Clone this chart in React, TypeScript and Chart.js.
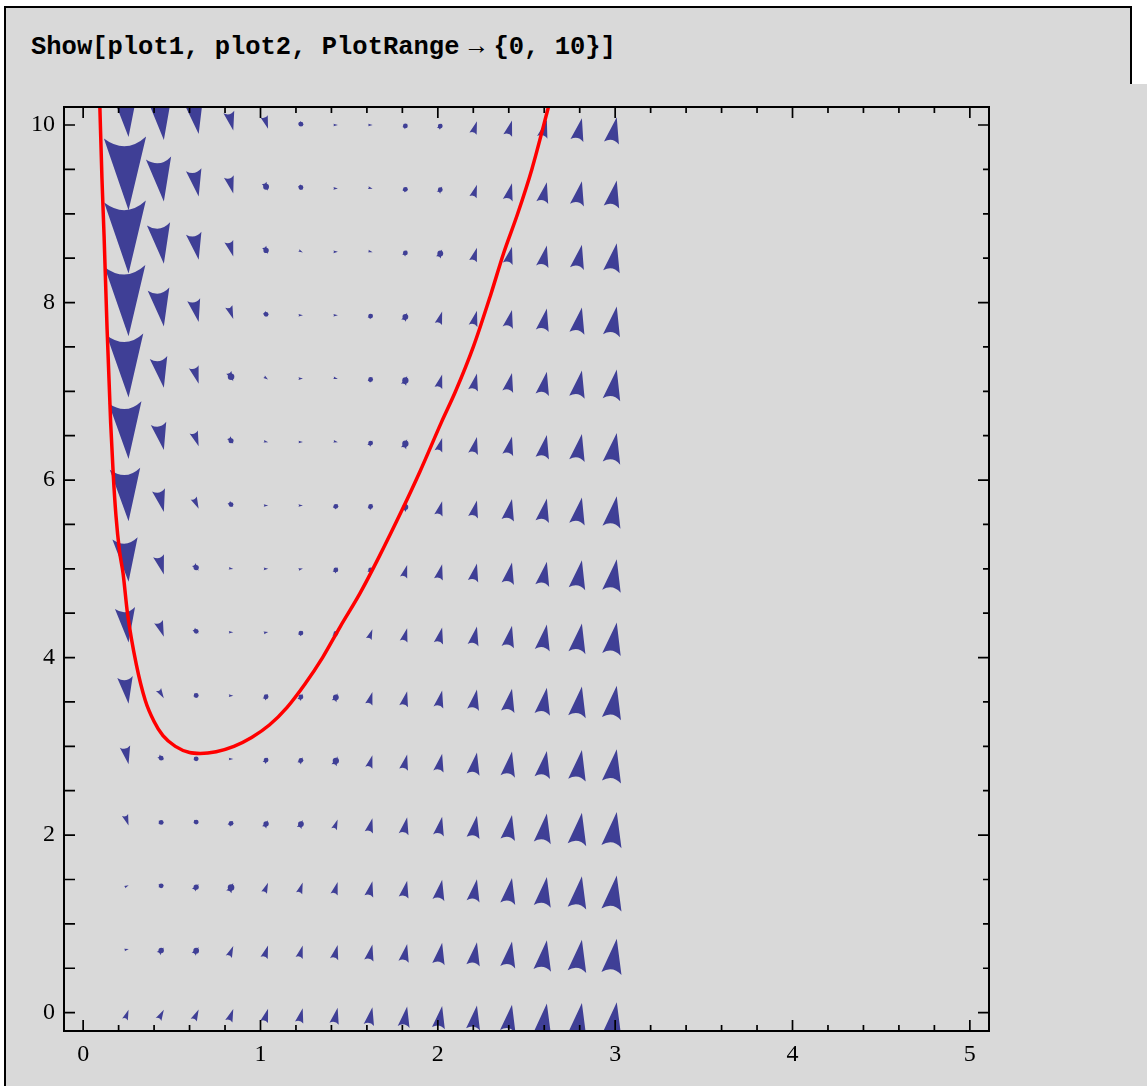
import React, { useEffect, useRef } from "react";
import { Chart, registerables } from "chart.js";

Chart.register(...registerables);

// ---------- data ----------
const CODE_BEFORE_RULE = "Show[plot1, plot2, PlotRange";
const CODE_RULE = "\u2192";
const CODE_AFTER_RULE = "{0, 10}]";

const X_RANGE = [-0.108, 5.108];
const Y_RANGE = [-0.207, 10.203];

const X_MAJOR_TICKS = [0, 1, 2, 3, 4, 5];
const X_MINOR_TICKS = [
  0.2, 0.4, 0.6, 0.8, 1.2, 1.4, 1.6, 1.8, 2.2, 2.4, 2.6, 2.8, 3.2, 3.4, 3.6, 3.8,
  4.2, 4.4, 4.6, 4.8,
];
const Y_MAJOR_TICKS = [0, 2, 4, 6, 8, 10];
const Y_MINOR_TICKS = [0.5, 1, 1.5, 2.5, 3, 3.5, 4.5, 5, 5.5, 6.5, 7, 7.5, 8.5, 9, 9.5];

// vector field sample points
const FIELD_X = [
  0.25, 0.446, 0.643, 0.839, 1.036, 1.232, 1.429, 1.625, 1.821, 2.018, 2.214, 2.411, 2.607, 2.804, 3.0,
];
const FIELD_Y = [
  0, 0.714, 1.429, 2.143, 2.857, 3.571, 4.286, 5.0, 5.714, 6.429, 7.143, 7.857, 8.571, 9.286, 10,
];
// horizontal arrow component (x units), per column
const FIELD_VX = [
  0.02, 0.03, 0.028, 0.025, 0.022, 0.02, 0.02, 0.02, 0.02, 0.021, 0.022, 0.024, 0.026, 0.028, 0.03,
];
// vertical arrow component (y units), one row per FIELD_Y value
const FIELD_VY_Y00 = [0.11, 0.11, 0.12, 0.14, 0.15, 0.16, 0.18, 0.2, 0.23, 0.25, 0.27, 0.3, 0.34, 0.36, 0.39];
const FIELD_VY_Y01 = [0.01, 0.07, 0.08, 0.12, 0.14, 0.14, 0.16, 0.18, 0.2, 0.24, 0.26, 0.29, 0.34, 0.36, 0.39];
const FIELD_VY_Y02 = [0.02, 0.0, 0.07, 0.1, 0.11, 0.12, 0.14, 0.17, 0.19, 0.23, 0.25, 0.29, 0.33, 0.36, 0.39];
const FIELD_VY_Y03 = [-0.12, 0.0, -0.02, 0.05, 0.08, 0.09, 0.11, 0.16, 0.19, 0.21, 0.25, 0.28, 0.33, 0.36, 0.39];
const FIELD_VY_Y04 = [-0.2, -0.05, -0.01, 0.0, 0.06, 0.07, 0.1, 0.14, 0.17, 0.2, 0.25, 0.28, 0.3, 0.34, 0.37];
const FIELD_VY_Y05 = [-0.3, -0.1, -0.01, 0.0, 0.06, 0.07, 0.09, 0.14, 0.17, 0.19, 0.23, 0.26, 0.3, 0.34, 0.37];
const FIELD_VY_Y06 = [-0.39, -0.17, -0.05, 0.0, 0.01, 0.05, 0.07, 0.11, 0.15, 0.18, 0.21, 0.24, 0.29, 0.33, 0.36];
const FIELD_VY_Y07 = [-0.49, -0.21, -0.07, -0.01, 0.0, 0.01, 0.06, 0.06, 0.14, 0.17, 0.2, 0.24, 0.27, 0.32, 0.36];
const FIELD_VY_Y08 = [-0.59, -0.25, -0.12, -0.05, 0.0, 0.0, 0.05, 0.06, 0.09, 0.16, 0.19, 0.24, 0.26, 0.3, 0.35];
const FIELD_VY_Y09 = [-0.64, -0.3, -0.16, -0.07, -0.01, 0.0, -0.01, 0.06, 0.1, 0.15, 0.19, 0.21, 0.26, 0.3, 0.34];
const FIELD_VY_Y10 = [-0.71, -0.34, -0.19, -0.1, -0.03, 0.0, -0.01, 0.05, 0.1, 0.15, 0.19, 0.21, 0.26, 0.3, 0.34];
const FIELD_VY_Y11 = [-0.79, -0.42, -0.25, -0.14, -0.05, 0.0, 0.0, 0.05, 0.09, 0.14, 0.17, 0.2, 0.25, 0.29, 0.33];
const FIELD_VY_Y12 = [-0.81, -0.45, -0.3, -0.17, -0.08, -0.02, 0.0, -0.01, 0.06, 0.09, 0.15, 0.19, 0.24, 0.27, 0.32];
const FIELD_VY_Y13 = [-0.82, -0.49, -0.3, -0.19, -0.09, -0.05, 0.0, -0.01, 0.05, 0.07, 0.14, 0.19, 0.23, 0.27, 0.3];
const FIELD_VY_Y14 = [-0.45, -0.56, -0.34, -0.21, -0.14, -0.05, 0.0, 0.0, 0.05, 0.06, 0.14, 0.17, 0.2, 0.25, 0.29];
const FIELD_VY = [
  FIELD_VY_Y00, FIELD_VY_Y01, FIELD_VY_Y02, FIELD_VY_Y03, FIELD_VY_Y04,
  FIELD_VY_Y05, FIELD_VY_Y06, FIELD_VY_Y07, FIELD_VY_Y08, FIELD_VY_Y09,
  FIELD_VY_Y10, FIELD_VY_Y11, FIELD_VY_Y12, FIELD_VY_Y13, FIELD_VY_Y14,
];

// red curve
const CURVE_X = [
  0.094, 0.106, 0.118, 0.135, 0.155, 0.17, 0.185, 0.205, 0.225, 0.25, 0.3, 0.35, 0.4, 0.45,
  0.52, 0.6, 0.66, 0.75, 0.85, 0.95, 1.05, 1.15, 1.25, 1.35, 1.45, 1.56, 1.67, 1.8, 1.9,
  2.02, 2.1, 2.2, 2.3, 2.37, 2.45, 2.53, 2.63,
];
const CURVE_Y = [
  10.22, 9.4, 8.75, 7.7, 6.65, 6.05, 5.6, 5.2, 4.95, 4.5, 3.92, 3.52, 3.28, 3.12,
  3.0, 2.93, 2.92, 2.94, 3.0, 3.1, 3.24, 3.44, 3.7, 4.0, 4.35, 4.72, 5.14, 5.67, 6.1,
  6.65, 7.0, 7.5, 8.1, 8.55, 9.0, 9.5, 10.25,
];

// ---------- style ----------
const GRAY = "#d9d9d9";
const ARROW_COLOR = "#3f3f96";
const CURVE_COLOR = "#ff0000";
const LABEL_FONT = "Liberation Serif";

const fieldPlugin = {
  id: "vectorField",
  beforeDatasetsDraw(chart: any) {
    const { ctx, chartArea } = chart;
    const xs = chart.scales.x;
    const ys = chart.scales.y;
    ctx.save();
    ctx.beginPath();
    ctx.rect(chartArea.left, chartArea.top, chartArea.right - chartArea.left, chartArea.bottom - chartArea.top);
    ctx.clip();
    ctx.fillStyle = ARROW_COLOR;
    FIELD_Y.forEach((yv, j) => {
      FIELD_X.forEach((xv, i) => {
        const vx = FIELD_VX[i];
        const vy = FIELD_VY[j][i];
        const px = xs.getPixelForValue(xv);
        const py = ys.getPixelForValue(yv);
        let dx = xs.getPixelForValue(xv + vx) - px;
        let dy = ys.getPixelForValue(yv + vy) - py;
        let L = Math.hypot(dx, dy);
        if (L < 0.5) return;
        if (L < 4.5) {
          dx = (dx / L) * 4.5;
          dy = (dy / L) * 4.5;
          L = 4.5;
        }
        const ux = dx / L;
        const uy = dy / L;
        const nx = -uy;
        const ny = ux;
        const tipX = px + 0.3 * dx;
        const tipY = py + 0.3 * dy;
        const bx = px - 0.7 * dx;
        const by = py - 0.7 * dy;
        const hw = 0.29 * L;
        const notch = 0.12 * L;
        ctx.beginPath();
        ctx.moveTo(tipX, tipY);
        ctx.lineTo(bx + nx * hw, by + ny * hw);
        ctx.quadraticCurveTo(bx + ux * notch * 2, by + uy * notch * 2, bx - nx * hw, by - ny * hw);
        ctx.closePath();
        ctx.fill();
        if (L > 5 && L < 10) {
          ctx.beginPath();
          ctx.arc(px - 0.2 * dx, py - 0.2 * dy, Math.max(2.4, 0.33 * L), 0, Math.PI * 2);
          ctx.fill();
        }
      });
    });
    ctx.restore();
  },
  afterDatasetsDraw(chart: any) {
    const { ctx, chartArea } = chart;
    const xs = chart.scales.x;
    const ys = chart.scales.y;
    const { left, right, top, bottom } = chartArea;
    ctx.save();
    ctx.strokeStyle = "#000";
    ctx.lineWidth = 1.7;
    const xTick = (v: number, len: number) => {
      const p = xs.getPixelForValue(v);
      ctx.beginPath();
      ctx.moveTo(p, bottom);
      ctx.lineTo(p, bottom - len);
      ctx.moveTo(p, top);
      ctx.lineTo(p, top + len);
      ctx.stroke();
    };
    X_MAJOR_TICKS.forEach((v) => xTick(v, 11));
    X_MINOR_TICKS.forEach((v) => xTick(v, 6));
    const yTick = (v: number, lenL: number, lenR: number) => {
      const p = ys.getPixelForValue(v);
      ctx.beginPath();
      ctx.moveTo(left, p);
      ctx.lineTo(left + lenL, p);
      ctx.moveTo(right, p);
      ctx.lineTo(right - lenR, p);
      ctx.stroke();
    };
    Y_MAJOR_TICKS.forEach((v) => yTick(v, 11, 11));
    Y_MINOR_TICKS.forEach((v) => yTick(v, 11, 6));
    ctx.lineWidth = 2;
    ctx.strokeRect(left, top, right - left, bottom - top);
    ctx.restore();
  },
};

function PlotCanvas() {
  const ref = useRef<HTMLCanvasElement | null>(null);
  useEffect(() => {
    if (!ref.current) return;
    const chart = new Chart(ref.current, {
      type: "scatter",
      data: {
        datasets: [
          {
            data: CURVE_X.map((x, i) => ({ x, y: CURVE_Y[i] })),
            showLine: true,
            borderColor: CURVE_COLOR,
            backgroundColor: CURVE_COLOR,
            borderWidth: 3.5,
            pointRadius: 0,
            fill: false,
            cubicInterpolationMode: "monotone",
          } as any,
        ],
      },
      options: {
        animation: false,
        responsive: false,
        events: [],
        layout: { padding: { left: 0, top: 107, right: 158, bottom: 15 } },
        plugins: { legend: { display: false }, tooltip: { enabled: false } },
        scales: {
          x: {
            type: "linear",
            position: "bottom",
            min: X_RANGE[0],
            max: X_RANGE[1],
            afterBuildTicks: (s: any) => {
              s.ticks = X_MAJOR_TICKS.map((v) => ({ value: v }));
            },
            afterFit: (s: any) => {
              s.height = 40;
            },
            grid: { display: false, drawTicks: false },
            border: { display: false },
            ticks: {
              color: "#000",
              padding: 9,
              maxRotation: 0,
              autoSkip: false,
              font: { family: LABEL_FONT, size: 24 },
              callback: (v: any) => String(v),
            },
          },
          y: {
            type: "linear",
            position: "left",
            min: Y_RANGE[0],
            max: Y_RANGE[1],
            afterBuildTicks: (s: any) => {
              s.ticks = Y_MAJOR_TICKS.map((v) => ({ value: v }));
            },
            afterFit: (s: any) => {
              s.width = 64;
            },
            grid: { display: false, drawTicks: false },
            border: { display: false },
            ticks: {
              color: "#000",
              padding: 9,
              autoSkip: false,
              font: { family: LABEL_FONT, size: 24 },
              callback: (v: any) => String(v),
            },
          },
        },
      },
      plugins: [fieldPlugin],
    });
    return () => chart.destroy();
  }, []);
  return (
    <canvas
      ref={ref}
      width={1147}
      height={1086}
      style={{ position: "absolute", left: 0, top: 0, width: 1147, height: 1086 }}
    />
  );
}

export default function App() {
  return (
    <div
      style={{
        position: "fixed",
        left: 0,
        top: 0,
        width: 1147,
        height: 1086,
        background: "#fff",
        overflow: "hidden",
      }}
    >
      <div
        style={{
          position: "absolute",
          left: 4,
          top: 6,
          width: 1128,
          height: 80,
          boxSizing: "border-box",
          borderTop: "2px solid #000",
          borderLeft: "2px solid #000",
          borderRight: "2px solid #000",
          background: GRAY,
        }}
      />
      <div
        style={{
          position: "absolute",
          left: 4,
          top: 84,
          width: 1143,
          height: 1002,
          boxSizing: "border-box",
          borderLeft: "2px solid #000",
          background: GRAY,
        }}
      />
      <div
        style={{
          position: "absolute",
          left: 31,
          top: 33,
          whiteSpace: "pre",
          fontFamily: '"Liberation Mono", monospace',
          fontWeight: "bold",
          fontSize: 25.5,
          lineHeight: "30px",
          color: "#000",
        }}
      >
        {CODE_BEFORE_RULE}
        <span style={{ display: "inline-block", width: 34, textAlign: "center", fontWeight: "normal" }}>
          {CODE_RULE}
        </span>
        {CODE_AFTER_RULE}
      </div>
      <PlotCanvas />
    </div>
  );
}
